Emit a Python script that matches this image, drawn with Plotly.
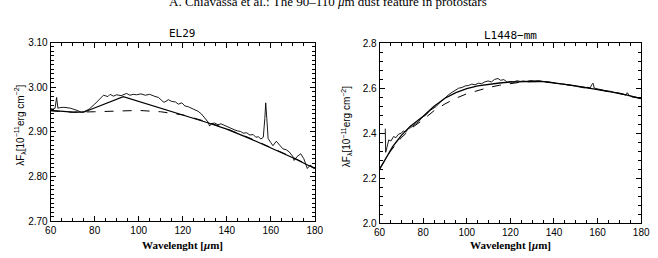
import plotly.graph_objects as go

W, H = 658, 258

# ---------------- EL29 (left panel) ----------------
el29_obs_x = [60, 61, 62, 62.7, 63.3, 64, 66, 69, 72, 74, 75.5, 77.5, 80, 82.5, 84, 86, 87, 88.5,
              90, 92, 94.5, 96, 97.5, 99, 101, 103, 105, 107, 109, 110.5, 111.5, 113.5, 115,
              116.7, 118, 119.6, 121, 122.6, 124, 125.5, 127, 128.5, 130, 131.5, 132.2, 133,
              134.4, 136, 137.4, 139, 140.3, 142, 143.3, 145, 146.2, 147.5, 149, 150.5, 152,
              153.2, 154.4, 155.5, 156.6, 157.3, 157.7, 158.2, 158.8, 160, 161, 162.5, 163.5,
              165.5, 167, 168.4, 170, 170.6, 172, 173.6, 175, 176.6, 178, 179, 180]
el29_obs_y = [2.952, 2.951, 2.953, 2.977, 2.953, 2.954, 2.955, 2.953, 2.948, 2.944, 2.946, 2.951,
              2.962, 2.975, 2.982, 2.979, 2.984, 2.980, 2.983, 2.981, 2.986, 2.982, 2.984, 2.983,
              2.985, 2.982, 2.984, 2.980, 2.977, 2.970, 2.966, 2.972, 2.968, 2.967, 2.962, 2.965,
              2.958, 2.956, 2.953, 2.951, 2.946, 2.940, 2.930, 2.922, 2.913, 2.918, 2.920, 2.916,
              2.918, 2.914, 2.912, 2.907, 2.905, 2.902, 2.901, 2.897, 2.898, 2.893, 2.894, 2.888,
              2.889, 2.884, 2.888, 2.930, 2.965, 2.930, 2.885, 2.876, 2.869, 2.879, 2.874, 2.862,
              2.860, 2.855, 2.845, 2.836, 2.845, 2.851, 2.840, 2.818, 2.826, 2.820, 2.818]
el29_fit_x = [60, 65, 70, 75, 93, 131, 140, 150, 160, 170, 180]
el29_fit_y = [2.948, 2.946, 2.944, 2.944, 2.979, 2.921, 2.906, 2.886, 2.864, 2.842, 2.818]
el29_cont_x = [60, 70, 80, 90, 100, 110, 120, 130, 140, 150, 160, 170, 180]
el29_cont_y = [2.947, 2.944, 2.945, 2.947, 2.948, 2.945, 2.938, 2.924, 2.907, 2.887, 2.865, 2.843, 2.819]

# ---------------- L1448-mm (right panel) ----------------
l1448_obs_x = [62.6, 62.8, 63.2, 64.2, 65.2, 66.4, 67.5, 68.6, 70, 70.9, 72, 73.2, 74.3, 75.4, 76.5,
               78, 79.5, 81.4, 83, 84.5, 85.9, 87.5, 89, 90.3, 91.8, 93.3, 94.8, 96.3, 97.8, 99.3,
               100.8, 102.3, 103.8, 105.3, 106.8, 108.3, 109.8, 111.3, 112.8, 114.3, 115.5, 117,
               118.5, 120, 121.5, 123, 124.5, 126, 127.5, 129.2, 131, 133, 135, 137, 139, 141, 143,
               145, 147, 148.6, 150, 152, 154, 155.5, 156.5, 157.3, 157.9, 158.5, 160, 162, 164,
               166, 168, 170, 172, 173, 173.6, 174.5, 176, 178, 180]
l1448_obs_y = [2.42, 2.315, 2.33, 2.37, 2.365, 2.385, 2.38, 2.395, 2.40, 2.41, 2.405, 2.42, 2.425,
               2.432, 2.44, 2.452, 2.47, 2.482, 2.50, 2.51, 2.518, 2.535, 2.548, 2.561, 2.572, 2.582,
               2.59, 2.60, 2.603, 2.61, 2.612, 2.618, 2.615, 2.622, 2.62, 2.628, 2.632, 2.628, 2.639,
               2.643, 2.635, 2.638, 2.627, 2.63, 2.628, 2.633, 2.63, 2.632, 2.63, 2.634, 2.632, 2.634,
               2.63, 2.629, 2.626, 2.622, 2.62, 2.616, 2.614, 2.611, 2.608, 2.606, 2.601, 2.604, 2.60,
               2.615, 2.622, 2.60, 2.596, 2.592, 2.588, 2.586, 2.58, 2.578, 2.572, 2.57, 2.58, 2.568,
               2.56, 2.556, 2.555]
l1448_fit_x = [60, 62, 64, 66, 68, 70, 74, 80, 85, 90, 95, 100, 105, 110, 115, 120, 125, 130, 135,
               140, 145, 150, 155, 160, 165, 170, 175, 180]
l1448_fit_y = [2.24, 2.275, 2.31, 2.34, 2.365, 2.39, 2.43, 2.475, 2.52, 2.555, 2.58, 2.598, 2.61,
               2.618, 2.623, 2.627, 2.629, 2.63, 2.629, 2.624, 2.617, 2.61, 2.602, 2.595, 2.585,
               2.577, 2.566, 2.554]
l1448_cont_x = [60, 65, 70, 75, 80, 85, 90, 95, 100, 105, 110, 115, 120, 125, 130, 135, 140, 145,
                150, 155, 160, 165, 170, 175, 180]
l1448_cont_y = [2.24, 2.32, 2.38, 2.425, 2.46, 2.50, 2.53, 2.555, 2.575, 2.59, 2.603, 2.613, 2.621,
                2.627, 2.629, 2.629, 2.624, 2.617, 2.61, 2.602, 2.595, 2.585, 2.577, 2.566, 2.554]

x_range = [60, 180]
el29_range = [2.70, 3.10]
l1448_range = [2.0, 2.8]

header = "A. Chiavassa et al.: The 90–110 <i>μ</i>m dust feature in protostars"
titles = ["EL29", "L1448−mm"]
xlabel = "Wavelenght [<i>μ</i>m]"
ylabel = "λF<sub>λ</sub>[10<sup>−11</sup>erg cm<sup>−2</sup>]"

fig = go.Figure()

def add(x, y, xa, ya, width=1.0, dash="solid"):
    fig.add_trace(go.Scatter(x=x, y=y, mode="lines", xaxis=xa, yaxis=ya,
                             line=dict(color="black", width=width, dash=dash), showlegend=False,
                             hoverinfo="skip"))

add(el29_cont_x, el29_cont_y, "x", "y", 1.0, "dash")
add(el29_fit_x, el29_fit_y, "x", "y", 1.2)
add(el29_obs_x, el29_obs_y, "x", "y", 0.9)
add(l1448_cont_x, l1448_cont_y, "x2", "y2", 1.0, "dash")
add(l1448_fit_x, l1448_fit_y, "x2", "y2", 1.3)
add(l1448_obs_x, l1448_obs_y, "x2", "y2", 0.9)

tickfont = dict(family="Liberation Sans, Arial, sans-serif", size=10, color="black")

def axis_common(domain, anchor, rng, tick0, dtick, fmt, minor_dtick):
    return dict(domain=domain, anchor=anchor, range=rng,
                tick0=tick0, dtick=dtick, tickformat=fmt,
                ticks="inside", ticklen=5, tickwidth=1.1, tickcolor="black",
                minor=dict(ticks="inside", dtick=minor_dtick, ticklen=3, tickwidth=1,
                           tickcolor="black"),
                showline=True, linecolor="black", linewidth=1, mirror="allticks",
                showgrid=False, zeroline=False, tickfont=tickfont)

lx = [45.7 / W, 316 / W]
rx = [382.3 / W, 650 / W]
ly = [1 - 225.7 / H, 1 - 38.3 / H]
ry = [1 - 227.7 / H, 1 - 39 / H]

fig.update_layout(
    width=W, height=H, margin=dict(l=0, r=0, t=0, b=0),
    paper_bgcolor="white", plot_bgcolor="white",
    xaxis=axis_common(lx, "y", x_range, 60, 20, "d", 5),
    yaxis=axis_common(ly, "x", el29_range, 2.70, 0.10, ".2f", 0.01),
    xaxis2=axis_common(rx, "y2", x_range, 60, 20, "d", 5),
    yaxis2=axis_common(ry, "x2", l1448_range, 2.0, 0.2, ".1f", 0.04),
)

ann = []
ann.append(dict(text=header, x=0.5, y=1 + 5 / H, xref="paper", yref="paper",
                xanchor="center", yanchor="middle", showarrow=False,
                font=dict(family="Liberation Serif, Times New Roman, serif", size=13, color="black")))
for t, dom, yt in [(titles[0], lx, 29), (titles[1], rx, 31)]:
    ann.append(dict(text=t, x=(dom[0] + dom[1]) / 2, y=1 - yt / H, xref="paper", yref="paper",
                    xanchor="center", yanchor="middle", showarrow=False,
                    font=dict(family="DejaVu Sans Mono, Liberation Mono, monospace", size=11, color="black")))
    ann.append(dict(text=xlabel, x=(dom[0] + dom[1]) / 2, y=1 - 251 / H, xref="paper", yref="paper",
                    xanchor="center", yanchor="middle", showarrow=False,
                    font=dict(family="Liberation Serif, serif", size=11, color="black", weight="bold")))
for xp, yc in [(14, 125), (348, 127)]:
    ann.append(dict(text=ylabel, x=xp / W, y=1 - yc / H, xref="paper", yref="paper",
                    xanchor="center", yanchor="middle", showarrow=False, textangle=-90,
                    font=dict(family="Liberation Sans, Arial, sans-serif", size=10, color="black")))
fig.update_layout(annotations=ann)

fig.write_html("out.html")
